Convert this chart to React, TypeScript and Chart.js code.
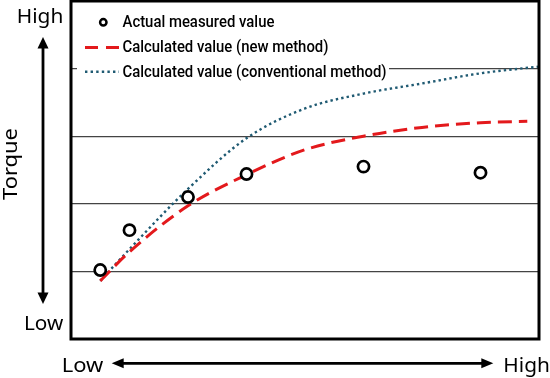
import React, { useEffect, useRef } from "react";
import { Chart, registerables } from "chart.js";

Chart.register(...registerables);

// ---- data (arbitrary units, x: 0..8, y: 0..5) ----
const measuredX = [0.5, 1, 2, 3, 5, 7];
const measuredY = [1.02, 1.61, 2.1, 2.44, 2.55, 2.46];
const newMethodX = [0.5, 1, 2, 3, 4, 5, 6, 7, 7.8];
const newMethodY = [0.86, 1.29, 1.97, 2.43, 2.8, 3.0, 3.13, 3.2, 3.22];
const convMethodX = [0.5, 1, 2, 3, 4, 5, 6, 7, 8];
const convMethodY = [0.86, 1.33, 2.22, 2.97, 3.41, 3.63, 3.78, 3.93, 4.03];
const seriesLabels = [
  "Actual measured value",
  "Calculated value (new method)",
  "Calculated value (conventional method)",
];
const yAxisTitle = "Torque";
const lowLabel = "Low";
const highLabel = "High";
const xRange = [0, 8];
const yRange = [0, 5];

const RED = "#e3191c";
const BLUE = "#1f5a72";

function fitText(
  ctx: CanvasRenderingContext2D,
  text: string,
  x: number,
  y: number,
  width: number,
  align: CanvasTextAlign
) {
  const m = ctx.measureText(text).width;
  const s = m > 0 ? width / m : 1;
  ctx.save();
  ctx.translate(x, y);
  ctx.scale(s, 1);
  ctx.textAlign = align;
  ctx.textBaseline = "alphabetic";
  ctx.fillText(text, 0, 0);
  ctx.restore();
}

const decorPlugin = {
  id: "decor",
  beforeDatasetsDraw(chart: any) {
    const ctx: CanvasRenderingContext2D = chart.ctx;
    ctx.save();
    // legend background
    ctx.fillStyle = "#ffffff";
    ctx.fillRect(77, 5, 312, 79);
    // markers
    ctx.strokeStyle = "#000";
    ctx.lineWidth = 2.5;
    ctx.beginPath();
    ctx.arc(103.3, 22.3, 3.2, 0, Math.PI * 2);
    ctx.stroke();
    ctx.strokeStyle = RED;
    ctx.lineWidth = 3;
    ctx.setLineDash([13, 8]);
    ctx.beginPath();
    ctx.moveTo(85, 47.5);
    ctx.lineTo(119.5, 47.5);
    ctx.stroke();
    ctx.strokeStyle = BLUE;
    ctx.lineWidth = 2.4;
    ctx.setLineDash([2.4, 3.2]);
    ctx.beginPath();
    ctx.moveTo(85, 71.7);
    ctx.lineTo(119, 71.7);
    ctx.stroke();
    ctx.setLineDash([]);
    // legend text
    ctx.fillStyle = "#000";
    ctx.font = "500 16px Roboto";
    const s = 264 / ctx.measureText(seriesLabels[2]).width;
    const baselines = [27.3, 52.3, 77.3];
    seriesLabels.forEach((t, i) => {
      const w = ctx.measureText(t).width * s;
      fitText(ctx, t, 122.5, baselines[i], w, "left");
    });
    ctx.restore();
  },
  afterDraw(chart: any) {
    const ctx: CanvasRenderingContext2D = chart.ctx;
    const a = chart.chartArea;
    ctx.save();
    // frame
    ctx.strokeStyle = "#000";
    ctx.lineWidth = 3;
    ctx.strokeRect(a.left, a.top, a.right - a.left, a.bottom - a.top);
    // vertical arrow
    ctx.fillStyle = "#000";
    ctx.lineWidth = 2.8;
    ctx.beginPath();
    ctx.moveTo(43, 46);
    ctx.lineTo(43, 295);
    ctx.stroke();
    ctx.beginPath();
    ctx.moveTo(43, 37);
    ctx.lineTo(37.5, 48.5);
    ctx.lineTo(48.5, 48.5);
    ctx.closePath();
    ctx.fill();
    ctx.beginPath();
    ctx.moveTo(43, 304);
    ctx.lineTo(37.5, 292.5);
    ctx.lineTo(48.5, 292.5);
    ctx.closePath();
    ctx.fill();
    // horizontal arrow
    ctx.beginPath();
    ctx.moveTo(120, 363.3);
    ctx.lineTo(485, 363.3);
    ctx.stroke();
    ctx.beginPath();
    ctx.moveTo(111.7, 363.3);
    ctx.lineTo(123.7, 358.3);
    ctx.lineTo(123.7, 368.3);
    ctx.closePath();
    ctx.fill();
    ctx.beginPath();
    ctx.moveTo(493.3, 363.3);
    ctx.lineTo(481.3, 358.3);
    ctx.lineTo(481.3, 368.3);
    ctx.closePath();
    ctx.fill();
    // axis texts
    ctx.font = "20px 'Noto Sans'";
    fitText(ctx, highLabel, 63.3, 23.3, 46.6, "right");
    fitText(ctx, lowLabel, 63.3, 330, 39.3, "right");
    fitText(ctx, lowLabel, 61.7, 372.3, 41.6, "left");
    fitText(ctx, highLabel, 503.3, 372.3, 46.6, "left");
    ctx.save();
    ctx.translate(17, 164);
    ctx.rotate(-Math.PI / 2);
    fitText(ctx, yAxisTitle, 0, 0, 72, "center");
    ctx.restore();
    ctx.restore();
  },
};

export default function App() {
  const ref = useRef<HTMLCanvasElement | null>(null);
  useEffect(() => {
    if (!ref.current) return;
    const toXY = (xs: number[], ys: number[]) => xs.map((x, i) => ({ x, y: ys[i] }));
    const chart = new Chart(ref.current, {
      type: "line",
      data: {
        datasets: [
          {
            label: seriesLabels[0],
            data: toXY(measuredX, measuredY),
            showLine: false,
            pointStyle: "circle",
            pointRadius: 5.6,
            pointBorderWidth: 2.7,
            pointBorderColor: "#000",
            pointBackgroundColor: "#fff",
            order: 0,
          },
          {
            label: seriesLabels[1],
            data: toXY(newMethodX, newMethodY),
            borderColor: RED,
            borderWidth: 3,
            borderDash: [14, 7],
            pointRadius: 0,
            cubicInterpolationMode: "monotone",
            fill: false,
            order: 1,
          },
          {
            label: seriesLabels[2],
            data: toXY(convMethodX, convMethodY),
            borderColor: BLUE,
            borderWidth: 2.4,
            borderDash: [2.4, 3.1],
            pointRadius: 0,
            cubicInterpolationMode: "monotone",
            fill: false,
            order: 2,
          },
        ],
      },
      options: {
        responsive: false,
        animation: false,
        events: [],
        layout: { autoPadding: false, padding: { left: 71, right: 11, top: 1, bottom: 39 } },
        plugins: { legend: { display: false }, tooltip: { enabled: false } },
        scales: {
          x: {
            type: "linear",
            min: xRange[0],
            max: xRange[1],
            display: false,
          },
          y: {
            type: "linear",
            min: yRange[0],
            max: yRange[1],
            ticks: { display: false, stepSize: 1 },
            grid: { drawTicks: false, color: "#444", lineWidth: 1.3 },
            border: { display: false },
          },
        },
      },
      plugins: [decorPlugin],
    });
    return () => chart.destroy();
  }, []);
  return (
    <div style={{ position: "fixed", left: 0, top: 0, width: 550, height: 378, background: "#fff" }}>
      <canvas ref={ref} width={550} height={378} style={{ display: "block" }} />
    </div>
  );
}
